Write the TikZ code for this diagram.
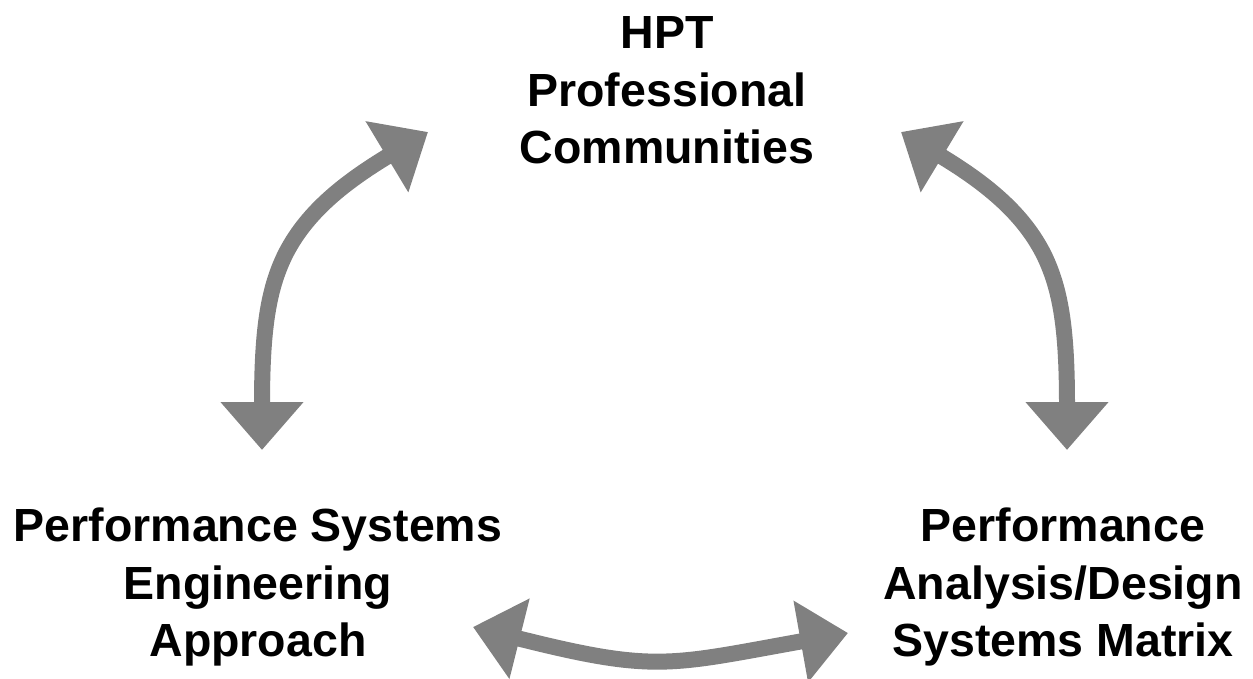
\documentclass[tikz,border=0pt]{standalone}
\usepackage{fontspec}
\setmainfont{Liberation Sans}
\usetikzlibrary{arrows.meta}
\begin{document}
\begin{tikzpicture}[x=1pt,y=-1pt,
  lbl/.style={inner sep=0pt, align=center, text=black,
    font={\fontsize{46.5}{57.3}\selectfont\bfseries}},
  bigarrow/.style={draw=gray, line width=16pt,
    {Triangle[width=80pt,length=48pt]}-{Triangle[width=80pt,length=48pt]}}]
\useasboundingbox (0,0) rectangle (1253,678);
% labels
\node[lbl, anchor=north] (hpt) at (667,8.5) {\rule{0pt}{40pt}HPT\\Professional\\Communities};
\node[lbl, anchor=north] (pse) at (258,501.7) {\rule{0pt}{40pt}Performance Systems\\Engineering\\Approach};
\node[lbl, anchor=north] (pad) at (1063,501.7) {\rule{0pt}{40pt}Performance\\Analysis/Design\\Systems Matrix};
% arrow end points
\coordinate (l1) at (262,450);
\coordinate (l2) at (428,132);
\coordinate (r1) at (1067,450);
\coordinate (r2) at (901,132);
\coordinate (b1) at (473,627);
\coordinate (b2) at (848,633);
% arrows
\draw[bigarrow] (l1) .. controls (262,330) and (268,290) .. (285,255)
  .. controls (305,215) and (340,185) .. (l2);
\draw[bigarrow] (r1) .. controls (1067,330) and (1061,290) .. (1044,255)
  .. controls (1024,215) and (989,185) .. (r2);
\draw[bigarrow] (b1) .. controls (656,673) and (669,665) .. (b2);
\end{tikzpicture}
\end{document}
